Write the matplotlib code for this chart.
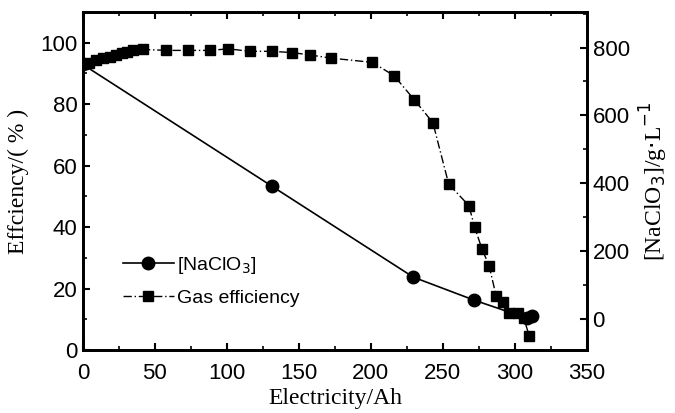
import matplotlib
matplotlib.use("Agg")
import matplotlib.pyplot as plt
from matplotlib.ticker import MultipleLocator

# Data
sq_x = [0, 4, 9, 14, 19, 23, 27, 31, 35, 42, 58, 73, 88, 101, 116, 131, 145, 158, 172,
        201, 216, 230, 243, 254, 268, 272, 277, 282, 287, 292, 296, 302, 306, 310]
sq_y = [93, 93.5, 94.5, 95, 95.5, 96, 96.5, 97, 97.5, 97.8, 97.5, 97.5, 97.5, 98, 97.2, 97.2, 96.8, 96, 95,
        93.6, 89.3, 81.5, 74, 54, 47, 40, 33, 27.5, 17.5, 15.5, 12, 12, 10.5, 4.5]
c_x = [0, 131.5, 229.5, 271.8, 308.5, 312]
c_y = [750, 390, 122, 54, 1, 7]

x_ticks = [0, 50, 100, 150, 200, 250, 300, 350]
left_ticks = [0, 20, 40, 60, 80, 100]
right_ticks = [0, 200, 400, 600, 800]

sans = ['Liberation Sans', 'DejaVu Sans']
serif = ['Liberation Serif', 'DejaVu Serif']

fig = plt.figure(figsize=(6.75, 4.13), dpi=100)
ax = fig.add_axes([0.1227, 0.1525, 0.7469, 0.8185])
ax2 = ax.twinx()

ax.plot(sq_x, sq_y, color='black', lw=1.0, linestyle=(0, (6, 2, 1, 2)),
        marker='s', markersize=7.8, label='Gas efficiency')
ax2.plot(c_x, c_y, color='black', lw=1.2, linestyle='-',
         marker='o', markersize=9, label='[NaClO$_3$]')

ax.set_xlim(0, 350)
ax.set_ylim(0, 110)
ax2.set_ylim(-93, 905)

ax.set_xticks(x_ticks)
ax.set_yticks(left_ticks)
ax2.set_yticks(right_ticks)
ax.xaxis.set_minor_locator(MultipleLocator(25))
ax.yaxis.set_minor_locator(MultipleLocator(10))
ax2.yaxis.set_minor_locator(MultipleLocator(100))

ax.tick_params(axis='x', which='both', direction='in', top=True, bottom=True)
ax.tick_params(axis='y', which='both', direction='in', left=True, right=False)
ax2.tick_params(axis='y', which='both', direction='in', right=True)
for a in (ax, ax2):
    a.tick_params(which='major', length=5, width=1.5, labelsize=16, pad=4)
    a.tick_params(which='minor', length=3, width=1.2)
    for s in a.spines.values():
        s.set_linewidth(2)
    for lab in a.get_xticklabels() + a.get_yticklabels():
        lab.set_family(sans)
ax.tick_params(axis='x', which='major', pad=9)

ax.set_xlabel('Electricity/Ah', family=serif, fontsize=17, labelpad=3)
ax.set_ylabel('Effciency/( % )', family=serif, fontsize=17, labelpad=8)
ax2.set_ylabel('[NaClO$_3$]/g$\\cdot$L$^{-1}$', family=serif, fontsize=17, labelpad=6)

h1, l1 = ax2.get_legend_handles_labels()
h2, l2 = ax.get_legend_handles_labels()
leg = ax2.legend(h1 + h2, l1 + l2, loc='lower left', bbox_to_anchor=(0.045, 0.075),
                 frameon=False, prop={'family': sans, 'size': 14},
                 handlelength=2.6, handletextpad=0.2, labelspacing=0.7)

fig.savefig('out.png', dpi=100)
